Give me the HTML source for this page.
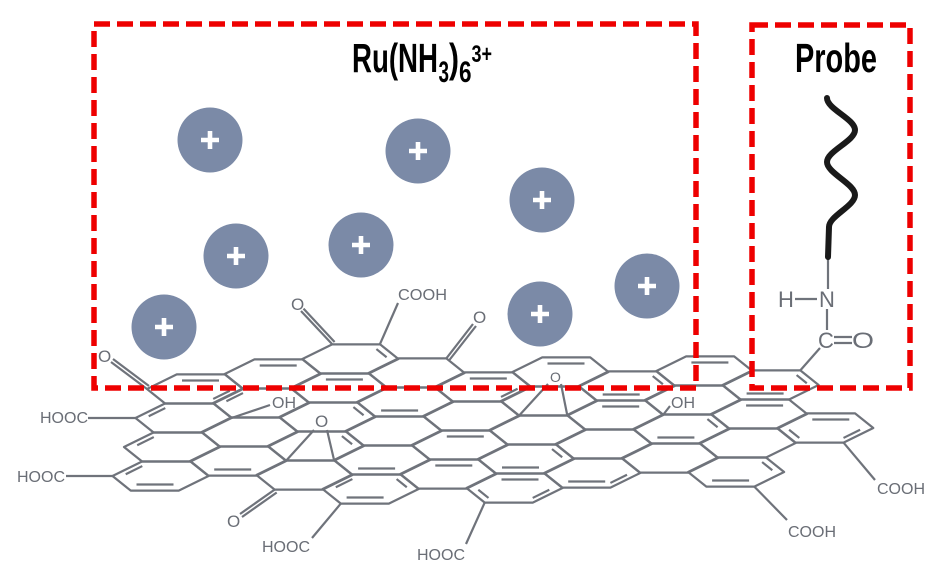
<!DOCTYPE html>
<html><head><meta charset="utf-8"><style>
html,body{margin:0;padding:0;background:#fff;}
svg{display:block;}
text{font-family:"Liberation Sans",Arial,sans-serif;}
</style></head><body>
<svg width="937" height="571" viewBox="0 0 937 571" xmlns="http://www.w3.org/2000/svg">
<rect width="937" height="571" fill="#fff"/>
<defs>
<path id="h" d="M48,0L29.75,-14.64L-18.25,-14.64L-48,0L-29.75,14.64L18.25,14.64Z"/>
<path id="t" d="M-13,-8.5H24"/>
<path id="b" d="M-24,8.5H13"/>
<path id="rt" d="M36.2,-1.76L26,-9.95"/>
<path id="lt" d="M-18.2,-9.95L-34.8,-1.76"/>
<path id="lb" d="M-36.2,1.76L-26,9.95"/>
<path id="rb" d="M18.2,9.95L34.8,1.76"/>
</defs>
<g fill="none" stroke="#6f737b" stroke-width="2.2" stroke-linejoin="round">
<g transform="translate(195,389)"><use href="#h" x="0" y="0"/><use href="#h" x="77.7" y="-15"/><use href="#h" x="155.4" y="-30"/></g>
<g transform="translate(183.5,418)"><use href="#h" x="0" y="0"/><use href="#h" x="77.7" y="-15"/><use href="#h" x="155.4" y="-30"/><use href="#h" x="233.1" y="-45"/></g>
<g transform="translate(172,447)"><use href="#h" x="0" y="0"/><use href="#h" x="77.7" y="-15"/><use href="#h" x="155.4" y="-30"/><use href="#h" x="233.1" y="-45"/><use href="#h" x="310.8" y="-60"/><use href="#h" x="388.5" y="-75"/></g>
<g transform="translate(160.5,476)"><use href="#h" x="0" y="0"/><use href="#h" x="77.7" y="-15"/><use href="#h" x="155.4" y="-30"/><use href="#h" x="233.1" y="-45"/><use href="#h" x="310.8" y="-60"/><use href="#h" x="388.5" y="-75"/><use href="#h" x="466.2" y="-90"/><use href="#h" x="543.9" y="-105"/></g>
<g transform="translate(149,505)"><use href="#h" x="155.4" y="-30"/><use href="#h" x="233.1" y="-45"/><use href="#h" x="310.8" y="-60"/><use href="#h" x="388.5" y="-75"/><use href="#h" x="466.2" y="-90"/><use href="#h" x="543.9" y="-105"/><use href="#h" x="621.6" y="-120"/></g>
<g transform="translate(137.5,534)"><use href="#h" x="233.1" y="-45"/><use href="#h" x="310.8" y="-60"/><use href="#h" x="388.5" y="-75"/><use href="#h" x="466.2" y="-90"/><use href="#h" x="543.9" y="-105"/><use href="#h" x="621.6" y="-120"/></g>
<g transform="translate(126,563)"><use href="#h" x="388.5" y="-75"/><use href="#h" x="466.2" y="-90"/><use href="#h" x="543.9" y="-105"/><use href="#h" x="621.6" y="-120"/><use href="#h" x="699.3" y="-135"/></g>
<g transform="translate(114.5,592)"><use href="#h" x="621.6" y="-120"/></g>
<!-- inner double bonds -->
<use href="#t" x="195" y="389"/><use href="#t" x="272.7" y="374"/><use href="#t" x="338.9" y="388"/><use href="#t" x="482.8" y="387"/><use href="#t" x="560.5" y="372"/><use href="#t" x="704.4" y="371"/><use href="#t" x="459.8" y="445"/><use href="#t" x="448.3" y="474"/><use href="#t" x="825.3" y="428"/><use href="#t" x="615.2" y="415"/><use href="#t" x="759.1" y="414"/><use href="#t" x="514.5" y="488"/>
<use href="#b" x="160.5" y="476"/><use href="#b" x="238.2" y="461"/><use href="#b" x="405.1" y="402"/><use href="#b" x="626.7" y="386"/><use href="#b" x="681.4" y="429"/><use href="#b" x="770.6" y="385"/><use href="#b" x="736.1" y="472"/><use href="#b" x="592.2" y="473"/><use href="#b" x="526" y="459"/><use href="#b" x="382.1" y="460"/><use href="#b" x="370.6" y="489"/>
<use href="#rt" x="626.7" y="386"/><use href="#rt" x="681.4" y="429"/><use href="#lb" x="825.3" y="428"/><use href="#rb" x="825.3" y="428"/><use href="#rt" x="736.1" y="472"/><use href="#rb" x="592.2" y="473"/><use href="#rt" x="770.6" y="385"/>
<use href="#rt" x="327.4" y="417"/><use href="#rt" x="315.9" y="446"/><use href="#rt" x="370.6" y="489"/><use href="#lt" x="370.6" y="489"/><use href="#rb" x="482.8" y="387"/><use href="#rt" x="526" y="459"/><use href="#lb" x="514.5" y="488"/><use href="#rb" x="514.5" y="488"/>
<use href="#lt" x="183.5" y="418"/><use href="#lt" x="172" y="447"/><use href="#lt" x="160.5" y="476"/><use href="#rb" x="195" y="389"/><use href="#rt" x="350.4" y="359"/><use href="#lt" x="261.2" y="403"/>
<!-- substituents -->
<path d="M380,344L398,303"/>
<path d="M332,344L301,311M334.6,342L303.5,308.6"/>
<path d="M446.3,358.4L473,324M449,360.5L476,326"/>
<path d="M147,389L111,362M149,386L113,359"/>
<path d="M88,418H135.5"/>
<path d="M66,476H112.5"/>
<path d="M231.5,418L270,405"/>
<path d="M314,430L286.2,460.6M327,430L334.2,460.6"/>
<path d="M274.6,489.6L240,514M276.7,492.5L242,517"/>
<path d="M340.8,503.6L312,538"/>
<path d="M484.7,502.6L466,544"/>
<path d="M548,384L519.3,415.4M561,384L567.3,415.4"/>
<path d="M663,415L670,406"/>
<path d="M843.5,442.6L875,480"/>
<path d="M754.3,486.6L787,520"/>
<path d="M800.3,370.4L820,348"/>
<path d="M828,257V289"/>
<path d="M795,299H817"/>
<path d="M827,309V330"/>
<path d="M834,337H852M834,343H852"/>
</g>
<g fill="#6a6e76" font-size="16">
<text x="398" y="300" textLength="49" lengthAdjust="spacingAndGlyphs">COOH</text>
<text x="291" y="310" font-size="17">O</text>
<text x="473" y="323" font-size="17">O</text>
<text x="98" y="362" font-size="17">O</text>
<text x="40" y="423" textLength="48" lengthAdjust="spacingAndGlyphs">HOOC</text>
<text x="17" y="482" textLength="48" lengthAdjust="spacingAndGlyphs">HOOC</text>
<text x="272" y="408">OH</text>
<text x="315" y="427" font-size="17">O</text>
<text x="227" y="527" font-size="17">O</text>
<text x="262" y="552" textLength="48" lengthAdjust="spacingAndGlyphs">HOOC</text>
<text x="417" y="560" textLength="48" lengthAdjust="spacingAndGlyphs">HOOC</text>
<text x="550" y="382" font-size="14">O</text>
<text x="671" y="408">OH</text>
<text x="877" y="494" textLength="48" lengthAdjust="spacingAndGlyphs">COOH</text>
<text x="788" y="537" textLength="48" lengthAdjust="spacingAndGlyphs">COOH</text>
<text x="778" y="307" font-size="22">H</text>
<text x="819" y="307" font-size="22">N</text>
<text x="818" y="348" font-size="22">C</text>
<text x="852" y="348" font-size="22" textLength="22" lengthAdjust="spacingAndGlyphs">O</text>
</g>
<!-- probe wave -->
<path d="M827,98 C827,109 855,119 855,130 C855,141 827,151 827,162 C827,173 855,184 855,195 C855,206 829,216 829,227 L828,257" fill="none" stroke="#1a1a1a" stroke-width="6" stroke-linecap="round"/>
<!-- ions -->
<g fill="#7b8aa7">
<circle cx="210" cy="140" r="32.5"/>
<circle cx="418" cy="151" r="32.5"/>
<circle cx="542" cy="200" r="32.5"/>
<circle cx="236" cy="256" r="32.5"/>
<circle cx="361" cy="245" r="32.5"/>
<circle cx="164" cy="327" r="32.5"/>
<circle cx="540" cy="314" r="32.5"/>
<circle cx="647" cy="286" r="32.5"/>
</g>
<g fill="#fff">
<path d="M201,137.7h18v4.6h-18zM207.7,131h4.6v18h-4.6z"/>
<path d="M409,148.7h18v4.6h-18zM415.7,142h4.6v18h-4.6z"/>
<path d="M533,197.7h18v4.6h-18zM539.7,191h4.6v18h-4.6z"/>
<path d="M227,253.7h18v4.6h-18zM233.7,247h4.6v18h-4.6z"/>
<path d="M352,242.7h18v4.6h-18zM358.7,236h4.6v18h-4.6z"/>
<path d="M155,324.7h18v4.6h-18zM161.7,318h4.6v18h-4.6z"/>
<path d="M531,311.7h18v4.6h-18zM537.7,305h4.6v18h-4.6z"/>
<path d="M638,283.7h18v4.6h-18zM644.7,277h4.6v18h-4.6z"/>
</g>
<!-- titles -->
<g fill="#000" font-weight="bold">
<text x="352" y="72" font-size="41" textLength="86" lengthAdjust="spacingAndGlyphs">Ru(NH</text>
<text x="438.5" y="82" font-size="30" textLength="10.5" lengthAdjust="spacingAndGlyphs">3</text>
<text x="449" y="72" font-size="41" textLength="10" lengthAdjust="spacingAndGlyphs">)</text>
<text x="459" y="82" font-size="30" textLength="12.5" lengthAdjust="spacingAndGlyphs">6</text>
<text x="471.5" y="62" font-size="24" textLength="20.5" lengthAdjust="spacingAndGlyphs">3+</text>
<text x="795" y="72" font-size="41" textLength="82" lengthAdjust="spacingAndGlyphs">Probe</text>
</g>
<!-- dashed boxes -->
<g fill="none" stroke="#ee0000" stroke-width="5.5" stroke-dasharray="16 7">
<path d="M94,24H696V388H94Z"/>
<path d="M752,25H910V388H752Z"/>
</g>
</svg>
</body></html>
